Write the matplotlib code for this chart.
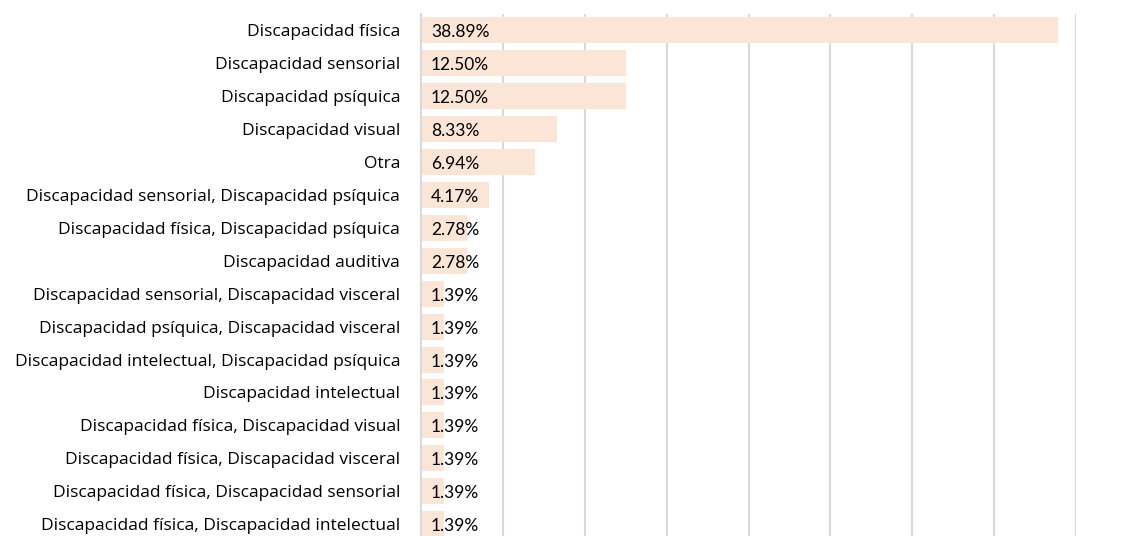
import matplotlib
matplotlib.use("Agg")
import matplotlib.pyplot as plt

categories = [
    "Discapacidad física",
    "Discapacidad sensorial",
    "Discapacidad psíquica",
    "Discapacidad visual",
    "Otra",
    "Discapacidad sensorial, Discapacidad psíquica",
    "Discapacidad física, Discapacidad psíquica",
    "Discapacidad auditiva",
    "Discapacidad sensorial, Discapacidad visceral",
    "Discapacidad psíquica, Discapacidad visceral",
    "Discapacidad intelectual, Discapacidad psíquica",
    "Discapacidad intelectual",
    "Discapacidad física, Discapacidad visual",
    "Discapacidad física, Discapacidad visceral",
    "Discapacidad física, Discapacidad sensorial",
    "Discapacidad física, Discapacidad intelectual",
]
values = [38.89, 12.50, 12.50, 8.33, 6.94, 4.17, 2.78, 2.78,
          1.39, 1.39, 1.39, 1.39, 1.39, 1.39, 1.39, 1.39]
value_labels = ["38.89%", "12.50%", "12.50%", "8.33%", "6.94%", "4.17%", "2.78%", "2.78%",
                "1.39%", "1.39%", "1.39%", "1.39%", "1.39%", "1.39%", "1.39%", "1.39%"]
x_ticks = [0, 5, 10, 15, 20, 25, 30, 35, 40]

plt.rcParams['font.family'] = ['Lato', 'DejaVu Sans']

W, H = 1145, 536
fig = plt.figure(figsize=(W / 100, H / 100), dpi=100)
top_px, bot_px = 14, 540.5
left_px, right_px = 421, 1076
ax = fig.add_axes([left_px / W, 1 - bot_px / H, (right_px - left_px) / W, (bot_px - top_px) / H])

y = list(range(len(categories)))
ax.barh(y, values, height=0.79, color="#FBE5D6", zorder=2)
ax.set_xlim(0, 40)
ax.set_ylim(len(categories) - 0.5, -0.5)
ax.set_xticks(x_ticks)
ax.set_xticklabels([])
ax.tick_params(axis='x', length=0)
ax.grid(axis='x', color="#D9D9D9", linewidth=1.5, zorder=0)
ax.set_yticks(y)
ax.set_yticklabels(categories, fontsize=12.5, color="#000000", family=['Open Sans', 'DejaVu Sans'])
ax.tick_params(axis='y', length=0, pad=15)
for s in ["top", "right", "bottom"]:
    ax.spines[s].set_visible(False)
ax.spines["left"].set_color("#D9D9D9")
ax.spines["left"].set_linewidth(1.5)

for yi, lab in zip(y, value_labels):
    ax.annotate(lab, xy=(0, yi), xytext=(10, -2), textcoords="offset pixels",
                va="center", ha="left", fontsize=12.5, color="#000000", zorder=3)

fig.savefig("out.png", dpi=100)
